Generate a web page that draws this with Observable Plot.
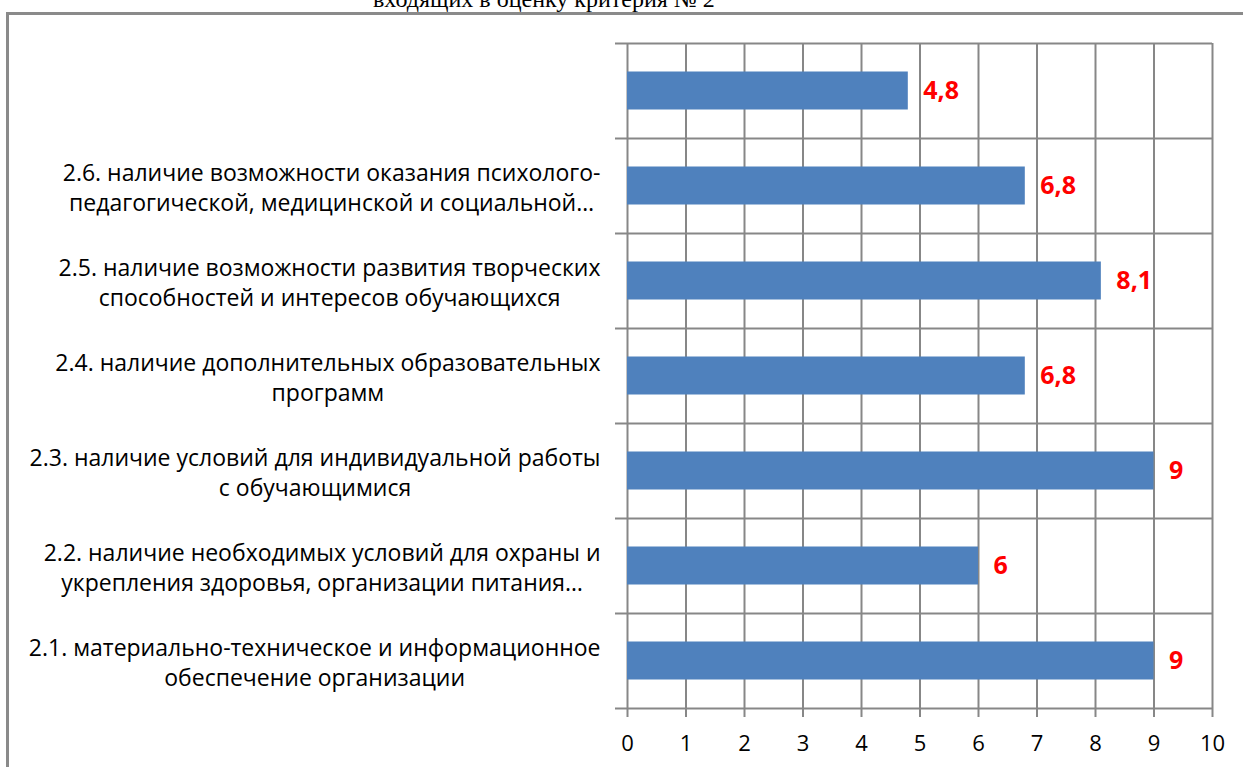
<!DOCTYPE html>
<html>
<head>
<meta charset="utf-8">
<script src="https://cdn.jsdelivr.net/npm/d3@7"></script>
<script src="https://cdn.jsdelivr.net/npm/@observablehq/plot@0.6"></script>
<style>
  html, body { margin: 0; padding: 0; background: #fff; }
  #wrap { position: relative; width: 1243px; height: 767px; overflow: hidden; }
  #title { position: absolute; left: 373px; top: -13px; font-family: "Liberation Serif", serif; font-size: 24px; line-height: 1; white-space: nowrap; color: #000; }
  #frame { position: absolute; left: 6px; top: 12px; width: 1400px; height: 900px; border: 3px solid #8a8a8a; box-sizing: border-box; }
  #chart { position: absolute; left: 0; top: 0; }
</style>
</head>
<body>
<div id="wrap">
  <div id="title">входящих в оценку критерия № 2</div>
  <div id="frame"></div>
  <div id="chart"></div>
</div>
<script>
// Categories from bottom to top
const categories = [
  "2.1. материально-техническое и информационное\nобеспечение организации",
  "2.2. наличие необходимых условий для охраны и\nукрепления здоровья, организации питания…",
  "2.3. наличие условий для индивидуальной работы\nс обучающимися",
  "2.4. наличие дополнительных образовательных\nпрограмм",
  "2.5. наличие возможности развития творческих\nспособностей и интересов обучающихся",
  "2.6. наличие возможности оказания психолого-\nпедагогической, медицинской и социальной…",
  ""
];
const values = [9, 6, 9, 6.8, 8.1, 6.8, 4.8];
const xTicks = [0, 1, 2, 3, 4, 5, 6, 7, 8, 9, 10];

const data = categories.map((label, i) => ({i, label, value: values[i]}));
const rows = d3.range(categories.length + 1);
const grid = "#878787";

const plot = Plot.plot({
  width: 1243,
  height: 767,
  marginLeft: 627,
  marginRight: 31,
  marginTop: 43,
  marginBottom: 59,
  style: {fontFamily: "'Open Sans', sans-serif", color: "#000", background: "transparent"},
  x: {domain: [0, 10], label: null},
  y: {domain: [0, categories.length], label: null},
  marks: [
    Plot.ruleX(xTicks, {x: d => d, y1: 0, y2: categories.length, stroke: grid, strokeWidth: 2}),
    Plot.ruleY(rows, {y: d => d, x1: 0, x2: 10, stroke: grid, strokeWidth: 2}),
    Plot.axisX({ticks: xTicks, tickSize: 9, tickPadding: 18, stroke: grid, strokeWidth: 2, fill: "#000", fontSize: 22, label: null, tickFormat: d => String(d)}),
    Plot.axisY({ticks: rows, tickSize: 12, tickFormat: () => "", label: null, stroke: grid, strokeWidth: 2}),
    Plot.rect(data, {x1: 0, x2: "value", y1: "i", y2: d => d.i + 1, insetTop: 28.5, insetBottom: 28.5, fill: "#4F81BD"}),
    Plot.text(data, {x: 0, y: d => d.i + 0.5, text: "label", textAnchor: "end", dx: -27, fontSize: 23, lineHeight: 1.33, fill: "#000"}),
    Plot.text(data, {x: "value", y: d => d.i + 0.5, text: d => String(d.value).replace(".", ","), textAnchor: "start", dx: 15, fill: "#FF0000", fontWeight: "bold", fontSize: 25})
  ]
});
document.getElementById("chart").appendChild(plot);

// center the lines of each category label within its right-aligned block
const labelSet = new Set(categories.filter(c => c).map(c => c.replace(/\n/g, "")));
plot.querySelectorAll("text").forEach(t => {
  if (!labelSet.has(t.textContent)) return;
  const w = t.getBBox().width;
  t.setAttribute("text-anchor", "middle");
  t.style.textAnchor = "middle";
  const spans = t.querySelectorAll("tspan");
  if (spans.length) spans.forEach(s => s.setAttribute("x", -w / 2));
  else t.setAttribute("x", -w / 2);
});
</script>
</body>
</html>
